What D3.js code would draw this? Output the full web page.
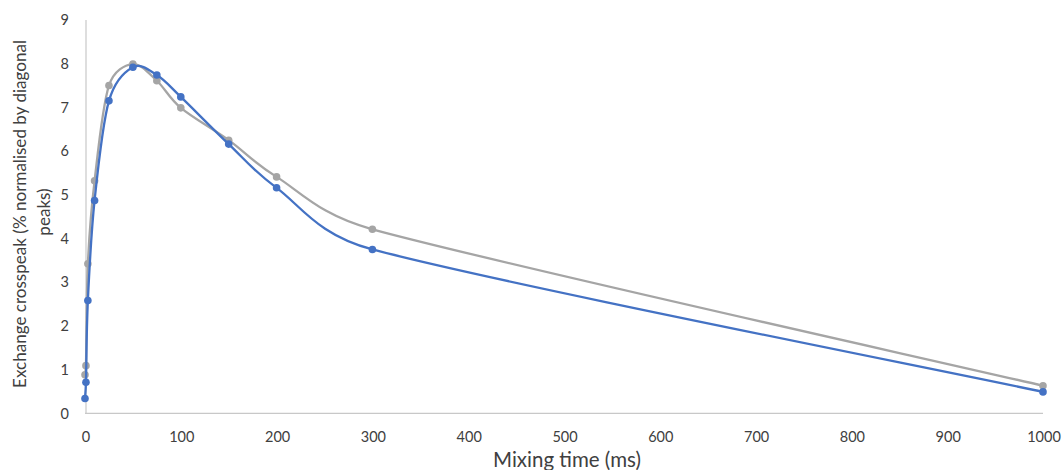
<!DOCTYPE html>
<html>
<head>
<meta charset="utf-8">
<script src="https://cdn.jsdelivr.net/npm/d3@7"></script>
<style>
  html, body { margin: 0; padding: 0; background: #ffffff; }
  svg { display: block; }
  text { font-family: Lato, "Open Sans", sans-serif; fill: #404040; }
</style>
</head>
<body>
<svg id="chart" width="1064" height="470"></svg>
<script>
// ---- data ----
const mixingTimes = [0, 1, 3, 10, 25, 50, 75, 100, 150, 200, 300, 1000];
const seriesGrey  = [0.88, 1.09, 3.42, 5.32, 7.50, 7.99, 7.61, 6.99, 6.25, 5.41, 4.21, 0.63];
const seriesBlue  = [0.34, 0.71, 2.58, 4.87, 7.15, 7.92, 7.74, 7.24, 6.16, 5.16, 3.75, 0.49];
const xTicks = [0, 100, 200, 300, 400, 500, 600, 700, 800, 900, 1000];
const yTicks = [0, 1, 2, 3, 4, 5, 6, 7, 8, 9];
const xTitle = "Mixing time (ms)";
const yTitleLines = ["Exchange crosspeak (% normalised by diagonal", "peaks)"];

// ---- spreadsheet-style smoothed curve (Catmull-Rom bezier with clamped handles) ----
function SmoothCurve(context) { this._context = context; }
SmoothCurve.prototype = {
  areaStart() { this._line = 0; },
  areaEnd() { this._line = NaN; },
  lineStart() { this._pts = []; },
  point(px, py) { this._pts.push([+px, +py]); },
  lineEnd() {
    const p = this._pts, n = p.length, c = this._context;
    if (!n) return;
    c.moveTo(p[0][0], p[0][1]);
    if (n === 1) return;
    const clamp = (t, maxLen) => {
      const L = Math.hypot(t[0], t[1]);
      if (L > maxLen && L > 0) { const k = maxLen / L; return [t[0] * k, t[1] * k]; }
      return t;
    };
    for (let i = 0; i < n - 1; i++) {
      const P0 = p[Math.max(i - 1, 0)], P1 = p[i], P2 = p[i + 1], P3 = p[Math.min(i + 2, n - 1)];
      const d12 = Math.hypot(P2[0] - P1[0], P2[1] - P1[1]);
      const t1 = clamp([(P2[0] - P0[0]) / 6, (P2[1] - P0[1]) / 6], d12 * 0.5);
      const t2 = clamp([(P3[0] - P1[0]) / 6, (P3[1] - P1[1]) / 6], d12 * 0.5);
      c.bezierCurveTo(P1[0] + t1[0], P1[1] + t1[1], P2[0] - t2[0], P2[1] - t2[1], P2[0], P2[1]);
    }
  }
};
const curveSmooth = ctx => new SmoothCurve(ctx);

// ---- layout ----
const svg = d3.select("#chart");
const x = d3.scaleLinear().domain([0, 1000]).range([85, 1043]);
const y = d3.scaleLinear().domain([0, 9]).range([413.3, 20]);

function fitWidth(sel, target) {
  const w = sel.node().getComputedTextLength();
  const fs = parseFloat(sel.attr("font-size"));
  sel.attr("font-size", (fs * target / w).toFixed(2));
}

// axis lines
svg.append("line")
  .attr("x1", x(0) + 1).attr("x2", x(0) + 1)
  .attr("y1", y(9)).attr("y2", y(0))
  .attr("stroke", "#c8c8c8").attr("stroke-width", 1.2);
svg.append("line")
  .attr("x1", x(0)).attr("x2", x(1000))
  .attr("y1", y(0)).attr("y2", y(0))
  .attr("stroke", "#c8c8c8").attr("stroke-width", 1.2);

// y tick labels
svg.append("g").selectAll("text").data(yTicks).join("text")
  .attr("x", 69).attr("y", d => y(d)).attr("dy", "0.36em")
  .attr("text-anchor", "end").attr("font-size", 14.5)
  .text(d => d);

// x tick labels
svg.append("g").selectAll("text").data(xTicks).join("text")
  .attr("x", d => x(d) + 1).attr("y", 442)
  .attr("text-anchor", "middle").attr("font-size", 14.5)
  .text(d => d);

// titles
const xt = svg.append("text")
  .attr("x", 567).attr("y", 467)
  .attr("text-anchor", "middle").attr("font-size", 18)
  .text(xTitle);
fitWidth(xt, 148);

const yt1 = svg.append("text")
  .attr("transform", "translate(25.5,214) rotate(-90)")
  .attr("text-anchor", "middle").attr("font-size", 17)
  .text(yTitleLines[0]);
fitWidth(yt1, 348);
const yt2 = svg.append("text")
  .attr("transform", "translate(49.5,212) rotate(-90)")
  .attr("text-anchor", "middle").attr("font-size", yt1.attr("font-size"))
  .text(yTitleLines[1]);

// series
const line = d3.line()
  .x(d => x(d[0])).y(d => y(d[1]))
  .curve(curveSmooth);

const series = [
  { values: seriesGrey, color: "#a5a5a5" },
  { values: seriesBlue, color: "#4472c4" }
];

series.forEach(s => {
  const pts = mixingTimes.map((t, i) => [t, s.values[i]]);
  const g = svg.append("g");
  g.append("path").datum(pts)
    .attr("d", line)
    .attr("fill", "none").attr("stroke", s.color)
    .attr("stroke-width", 2.3).attr("stroke-linejoin", "round");
  g.selectAll("circle").data(pts).join("circle")
    .attr("cx", d => x(d[0])).attr("cy", d => y(d[1]))
    .attr("r", 3.8).attr("fill", s.color);
});
</script>
</body>
</html>
